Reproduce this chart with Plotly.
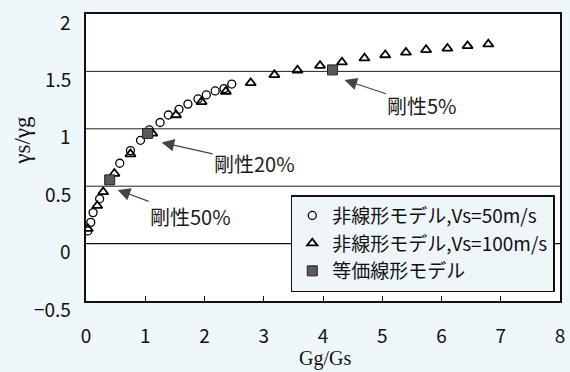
import plotly.graph_objects as go

# Nonlinear model, Vs = 50 m/s
vs50_x = [0.03, 0.08, 0.12, 0.23, 0.57, 0.75, 0.92, 1.07, 1.25, 1.39, 1.57, 1.72, 1.89, 2.03, 2.18, 2.33, 2.46]
vs50_y = [0.11, 0.185, 0.27, 0.39, 0.70, 0.81, 0.90, 0.99, 1.055, 1.12, 1.17, 1.215, 1.26, 1.295, 1.33, 1.35, 1.39]

# Nonlinear model, Vs = 100 m/s
vs100_x = [0.03, 0.19, 0.29, 0.48, 0.75, 1.12, 1.52, 1.95, 2.36, 2.78, 3.18, 3.57, 3.95,
           4.32, 4.70, 5.05, 5.40, 5.74, 6.10, 6.44, 6.79]
vs100_y = [0.13, 0.33, 0.45, 0.61, 0.78, 0.96, 1.12, 1.235, 1.325, 1.40, 1.47, 1.51, 1.55,
           1.58, 1.615, 1.643, 1.665, 1.688, 1.70, 1.722, 1.737]

# Equivalent linear model
eq_x = [0.40, 1.04, 4.16]
eq_y = [0.555, 0.96, 1.513]
eq_labels = ["剛性50%", "剛性20%", "剛性5%"]

x_ticks = [0, 1, 2, 3, 4, 5, 6, 7, 8]
y_ticks = [-0.5, 0, 0.5, 1, 1.5, 2]
y_ticktext = ["−0.5", "0", "0.5", "1", "1.5", "2"]
x_title = "Gg/Gs"
y_title = "γs/γg"

JP = "Noto Sans CJK JP"
SERIF = "Liberation Serif"

fig = go.Figure()

fig.add_trace(go.Scatter(
    x=vs50_x, y=vs50_y, mode="markers", name="非線形モデル,Vs=50m/s",
    marker=dict(symbol="circle-open", size=8, color="black", line=dict(width=1.3)),
))
fig.add_trace(go.Scatter(
    x=vs100_x, y=vs100_y, mode="markers", name="非線形モデル,Vs=100m/s",
    marker=dict(symbol="triangle-up-open", size=9, color="black", line=dict(width=1.8)),
))
fig.add_trace(go.Scatter(
    x=eq_x, y=eq_y, mode="markers", name="等価線形モデル",
    marker=dict(symbol="square", size=10, color="#5a5a5e", line=dict(color="#222", width=1)),
))

# Arrow callouts pointing just below-right of each equivalent-linear point
callout_ax = [73, 93, 78]
callout_ay = [27, 21, 26]
callout_shift = [(8, -10), (14, -9), (12, -10)]
for xv, yv, lab, ax, ay, (sx, sy) in zip(eq_x, eq_y, eq_labels, callout_ax, callout_ay, callout_shift):
    fig.add_annotation(
        x=xv, y=yv, xref="x", yref="y", text=lab,
        ax=ax, ay=ay, xshift=sx, yshift=sy,
        showarrow=True, arrowhead=2, arrowsize=2.1, arrowwidth=1.2,
        arrowcolor="#444", standoff=0, startstandoff=0,
        font=dict(family=JP, size=20, color="#1a1a1a"),
    )

# Y tick labels, set slightly below their gridlines
for yv, txt in zip(y_ticks, y_ticktext):
    fig.add_annotation(
        x=0, y=yv, xref="paper", yref="y", text=txt, showarrow=False,
        xanchor="right", yanchor="middle", xshift=-13, yshift=-7,
        font=dict(family=JP, size=19, color="#111"),
    )

# Axis titles
fig.add_annotation(
    x=0.5, y=-0.199, xref="paper", yref="paper", text=x_title, showarrow=False,
    xanchor="center", yanchor="middle", xshift=2,
    font=dict(family=SERIF, size=20, color="#111"),
)
fig.add_annotation(
    x=-0.1336, y=0.561, xref="paper", yref="paper", text=y_title, showarrow=False,
    xanchor="center", yanchor="middle", textangle=-90,
    font=dict(family=SERIF, size=23, color="#111"),
)

# Horizontal gridlines and zero line
for yv in [0.5, 1, 1.5]:
    fig.add_shape(type="line", xref="paper", yref="y", x0=0, x1=1, y0=yv, y1=yv,
                  line=dict(color="#222", width=1), layer="below")
fig.add_shape(type="line", xref="paper", yref="y", x0=0, x1=1, y0=0, y1=0,
              line=dict(color="#111", width=1.2), layer="below")

fig.update_layout(
    width=570, height=372,
    margin=dict(l=86, r=5, t=14, b=71),
    paper_bgcolor="#eef7f9",
    plot_bgcolor="white",
    showlegend=True,
    legend=dict(
        x=0.432, y=0.369, xanchor="left", yanchor="top",
        bgcolor="#eef6f9", bordercolor="#111", borderwidth=1.5,
        font=dict(family=JP, size=19, color="#111"),
        itemwidth=30, tracegroupgap=0,
    ),
    xaxis=dict(
        range=[0, 8], tickvals=x_ticks, ticktext=[str(v) for v in x_ticks],
        showgrid=False, zeroline=False,
        showline=True, linecolor="#111", linewidth=2, mirror=True,
        ticks="inside", ticklen=5, tickcolor="#111",
        tickfont=dict(family=JP, size=19, color="#111"),
        ticklabelstandoff=17,
    ),
    yaxis=dict(
        range=[-0.5, 2], tickvals=y_ticks, showticklabels=False,
        showgrid=False, zeroline=False,
        showline=True, linecolor="#111", linewidth=2, mirror=True,
        ticks="",
    ),
)

fig.write_html("out.html", config={"displayModeBar": False})
